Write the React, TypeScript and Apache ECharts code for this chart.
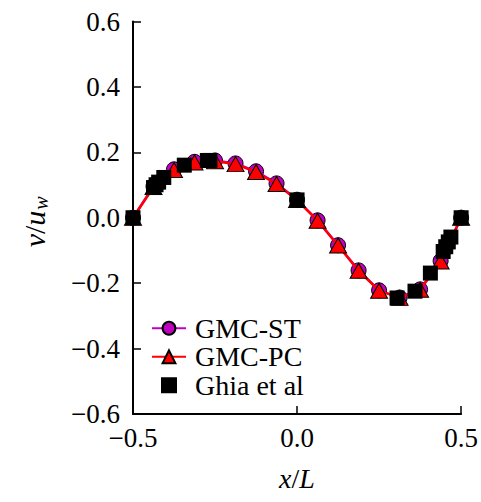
import React, { useEffect, useRef } from "react";
import * as echarts from "echarts";

const xNodes = [-0.5, -0.4375, -0.375, -0.3125, -0.25, -0.1875, -0.125, -0.0625, 0, 0.0625, 0.125, 0.1875, 0.25, 0.3125, 0.375, 0.4375, 0.5];
const stValues = [0, 0.096, 0.148, 0.171, 0.175, 0.166, 0.142, 0.105, 0.055, -0.008, -0.084, -0.161, -0.222, -0.244, -0.219, -0.132, 0];
const pcValues = [0, 0.094, 0.146, 0.169, 0.173, 0.164, 0.140, 0.103, 0.054, -0.009, -0.085, -0.162, -0.223, -0.245, -0.220, -0.134, 0];
const ghiaX = [-0.5, -0.4375, -0.4297, -0.4219, -0.4062, -0.3437, -0.2734, -0.2656, 0.0, 0.3047, 0.3594, 0.4063, 0.4453, 0.4531, 0.4609, 0.4688, 0.5];
const ghiaV = [0, 0.09233, 0.10091, 0.1089, 0.12317, 0.16077, 0.17507, 0.17527, 0.05454, -0.24533, -0.22445, -0.16914, -0.10313, -0.08864, -0.07391, -0.05906, 0];
const xTicks = [-0.5, 0, 0.5];
const yTicks = [-0.6, -0.4, -0.2, 0, 0.2, 0.4, 0.6];
const seriesNames = ["GMC-ST", "GMC-PC", "Ghia et al"];

const FONT = "'Liberation Serif', 'Times New Roman', serif";
const fmt = (v: number) => (v < -1e-9 ? "\u2212" : "") + Math.abs(v).toFixed(1);

export default function App() {
  const ref = useRef<HTMLDivElement>(null);
  useEffect(() => {
    if (!ref.current) return;
    const chart = echarts.init(ref.current, undefined, { renderer: "svg" });
    const pair = (xs: number[], ys: number[]) => xs.map((x, i) => [x, ys[i]]);
    chart.setOption({
      animation: false,
      backgroundColor: "#ffffff",
      textStyle: { fontFamily: FONT },
      grid: { left: 133, top: 21.5, width: 329, height: 392.5, containLabel: false },
      xAxis: {
        type: "value",
        min: xTicks[0],
        max: xTicks[xTicks.length - 1],
        interval: 0.5,
        axisLine: { show: true, onZero: false, lineStyle: { color: "#000", width: 2 } },
        axisTick: { show: true, inside: true, length: 8, lineStyle: { color: "#000", width: 1.5 } },
        splitLine: { show: false },
        axisLabel: { formatter: fmt, fontFamily: FONT, fontSize: 27, color: "#000", margin: 10 },
      },
      yAxis: {
        type: "value",
        min: yTicks[0],
        max: yTicks[yTicks.length - 1],
        interval: 0.2,
        axisLine: { show: true, onZero: false, lineStyle: { color: "#000", width: 2 } },
        axisTick: { show: true, inside: true, length: 8, lineStyle: { color: "#000", width: 1.5 } },
        splitLine: { show: false },
        axisLabel: { formatter: fmt, fontFamily: FONT, fontSize: 27, color: "#000", margin: 13 },
      },
      legend: {
        orient: "vertical",
        left: 146,
        top: 309,
        itemWidth: 34,
        itemHeight: 16,
        itemGap: 0,
        data: [
          { name: seriesNames[0] },
          { name: seriesNames[1] },
          { name: seriesNames[2], icon: "path://M0,0h10v10h-10z" },
        ],
        textStyle: { fontFamily: FONT, fontSize: 28, color: "#000", lineHeight: 28.5, padding: [0, 0, 0, 4] },
      },
      series: [
        {
          name: seriesNames[0],
          type: "line",
          data: pair(xNodes, stValues),
          symbol: "circle",
          symbolSize: 15,
          z: 2,
          lineStyle: { color: "#bf00bf", width: 2.5 },
          itemStyle: { color: "#bf00bf", borderColor: "#000", borderWidth: 1 },
        },
        {
          name: seriesNames[1],
          type: "line",
          data: pair(xNodes, pcValues),
          symbol: "triangle",
          symbolSize: [17, 15],
          z: 3,
          lineStyle: { color: "#ff0000", width: 2.5 },
          itemStyle: { color: "#ff0000", borderColor: "#000", borderWidth: 1 },
        },
        {
          name: seriesNames[2],
          type: "scatter",
          data: pair(ghiaX, ghiaV),
          symbol: "rect",
          symbolSize: 15,
          z: 4,
          itemStyle: { color: "#000", opacity: 1 },
        },
      ],
      graphic: [
        {
          type: "text",
          x: 297,
          y: 478,
          style: {
            text: "{i|x}/{i|L}",
            align: "center",
            verticalAlign: "middle",
            fontFamily: FONT,
            fontSize: 28,
            fill: "#000",
            rich: { i: { fontFamily: FONT, fontStyle: "italic", fontSize: 28 } },
          },
        },
        {
          type: "group",
          x: 34,
          y: 224,
          rotation: Math.PI / 2,
          children: [
            {
              type: "text",
              x: -5,
              y: 0,
              style: {
                text: "{i|v}/{i|u}",
                align: "center",
                verticalAlign: "middle",
                fontFamily: FONT,
                fontSize: 30,
                fill: "#000",
                rich: { i: { fontFamily: FONT, fontStyle: "italic", fontSize: 30 } },
              },
            },
            {
              type: "text",
              x: 21,
              y: 7,
              style: {
                text: "w",
                align: "center",
                verticalAlign: "middle",
                fontFamily: FONT,
                fontStyle: "italic",
                fontSize: 20,
                fill: "#000",
              },
            },
          ],
        },
      ],
    });
    return () => chart.dispose();
  }, []);
  return <div ref={ref} style={{ position: "fixed", left: 0, top: 0, width: 481, height: 502 }} />;
}
